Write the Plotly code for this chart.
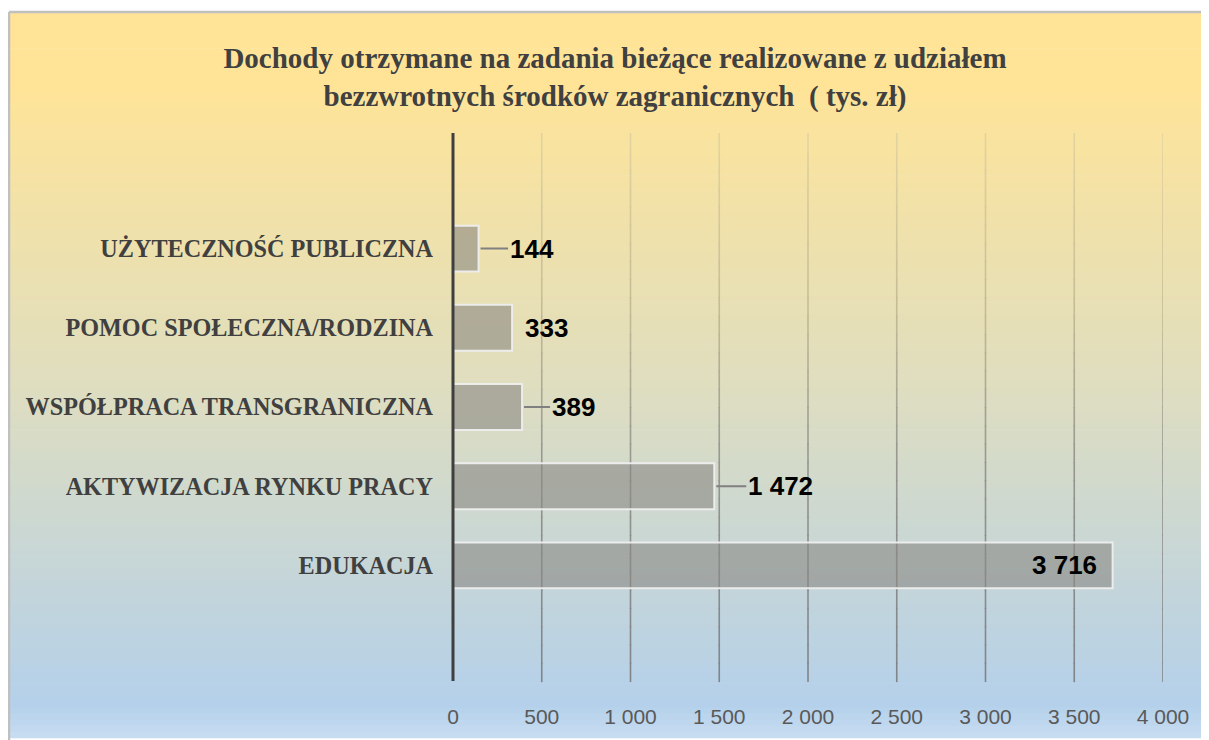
import plotly.graph_objects as go

# ---- data ----
categories = ["EDUKACJA", "AKTYWIZACJA RYNKU PRACY", "WSPÓŁPRACA TRANSGRANICZNA",
              "POMOC SPOŁECZNA/RODZINA", "UŻYTECZNOŚĆ PUBLICZNA"]
values = [3716, 1472, 389, 333, 144]
tick_vals = [0, 500, 1000, 1500, 2000, 2500, 3000, 3500, 4000]
tick_text = ["0", "500", "1 000", "1 500", "2 000", "2 500", "3 000", "3 500", "4 000"]
title_text = ("Dochody otrzymane na zadania bieżące realizowane z udziałem<br>"
              "bezzwrotnych środków zagranicznych  ( tys. zł)")

# ---- style ----
OFF = 8                       # page body margin of the browser
W, H = 1209 - OFF, 740 - OFF
ML = 453 - OFF
MR = W - (1163 - OFF)
MT = 133 - OFF
MB = H - (685 - OFF)
PW, PH = W - ML - MR, H - MT - MB
label_offsets = [None, 66, 51, 34, 53]   # px offset of outside labels (None = inside end)
label_leader = [False, True, True, False, True]


def fmt(v):
    return f"{v:,}".replace(",", " ")


def px2x(px):  # reference-image pixel -> paper
    return (px - OFF - ML) / PW


def py2y(py):
    return (H - MB - (py - OFF)) / PH


def interp(stops, t):
    for (t0, c0), (t1, c1) in zip(stops[:-1], stops[1:]):
        if t0 <= t <= t1:
            f = (t - t0) / (t1 - t0) if t1 > t0 else 0
            return tuple(round(c0[i] + (c1[i] - c0[i]) * f) for i in range(3))
    return stops[-1][1] if t > stops[-1][0] else stops[0][1]


# background gradient bands
bg_stops = [(0.0, (255, 228, 152)), (0.1, (255, 228, 152)), (0.5, (224, 222, 190)),
            (0.955, (180, 208, 234)), (1.0, (200, 221, 242))]
shapes = []
top_px, bot_px = 11, 742
N = 120
for i in range(N):
    y0p = top_px + (bot_px - top_px) * i / N
    y1p = top_px + (bot_px - top_px) * (i + 1) / N
    c = interp(bg_stops, (i + 0.5) / N)
    shapes.append(dict(type="rect", xref="paper", yref="paper", layer="below",
                       x0=px2x(9), x1=px2x(1212), y0=py2y(y1p + 0.7), y1=py2y(y0p),
                       fillcolor=f"rgb{c}", line=dict(width=0)))

# gridlines with colour fading from tan (top) to gray (bottom)
grid_stops = [(0.0, (226, 212, 160)), (0.3, (200, 190, 150)), (0.6, (150, 150, 145)),
              (1.0, (128, 132, 138))]
G = 30
for tv in tick_vals[1:]:
    for i in range(G):
        c = interp(grid_stops, (i + 0.5) / G)
        shapes.append(dict(type="line", xref="x", yref="paper", layer="below",
                           x0=tv, x1=tv, y0=1 - (i + 1) / G - 0.002, y1=1 - i / G,
                           line=dict(color=f"rgb{c}", width=1.6)))

# outer border (left and top)
shapes.append(dict(type="line", xref="paper", yref="paper", layer="below",
                   x0=px2x(9), x1=px2x(9), y0=py2y(745), y1=py2y(11),
                   line=dict(color="#C0C0C0", width=2.5)))
shapes.append(dict(type="line", xref="paper", yref="paper", layer="below",
                   x0=px2x(9), x1=px2x(1212), y0=py2y(11), y1=py2y(11),
                   line=dict(color="#C0C0C0", width=2.5)))
# y axis line (paper-referenced so it is not clipped)
shapes.append(dict(type="line", xref="paper", yref="paper", layer="above",
                   x0=0, x1=0, y0=0, y1=1, line=dict(color="#3F3F3F", width=3)))

fig = go.Figure()
fig.add_trace(go.Bar(
    x=values, y=categories, orientation="h", width=0.58,
    marker=dict(color="rgba(138,136,132,0.6)",
                line=dict(color="rgba(238,238,238,0.95)", width=2)),
    hoverinfo="x+y", showlegend=False,
))

lab_font = dict(family="Liberation Sans, Arial", size=26, color="#000000", weight="bold")
annotations = []
for cat, v, off, lead in zip(categories, values, label_offsets, label_leader):
    if off is None:
        annotations.append(dict(x=v, y=cat, xref="x", yref="y", text=fmt(v), showarrow=False,
                                xanchor="right", xshift=-14, font=lab_font))
    else:
        annotations.append(dict(x=v, y=cat, xref="x", yref="y", text=fmt(v), showarrow=True,
                                ax=off, ay=0, arrowhead=0, arrowwidth=2, standoff=2,
                                arrowcolor="#808080" if lead else "rgba(0,0,0,0)",
                                font=lab_font))

fig.update_layout(
    width=W, height=H,
    margin=dict(l=ML, r=MR, t=MT, b=MB, pad=0),
    paper_bgcolor="white", plot_bgcolor="rgba(0,0,0,0)",
    title=dict(text=title_text, xref="container", yref="container",
               x=(615 - OFF) / W, xanchor="center", y=1 - (68 - OFF) / H, yanchor="middle",
               font=dict(family="Liberation Serif, Times New Roman", size=29, color="#404040",
                         weight="bold")),
    xaxis=dict(range=[0, 4000], tickvals=tick_vals, ticktext=tick_text,
               showgrid=False, zeroline=False,
               showline=False, ticks="", ticklabelstandoff=21,
               tickfont=dict(family="Liberation Sans, Arial", size=21, color="#595959")),
    yaxis=dict(type="category", range=[-1.46, 5.46], showgrid=False, zeroline=False,
               showline=False, ticks="", ticklabelstandoff=19,
               tickfont=dict(family="Liberation Serif, Times New Roman", size=24.2,
                             color="#404040", weight="bold")),
    shapes=shapes, annotations=annotations,
)

fig.write_html("out.html")
